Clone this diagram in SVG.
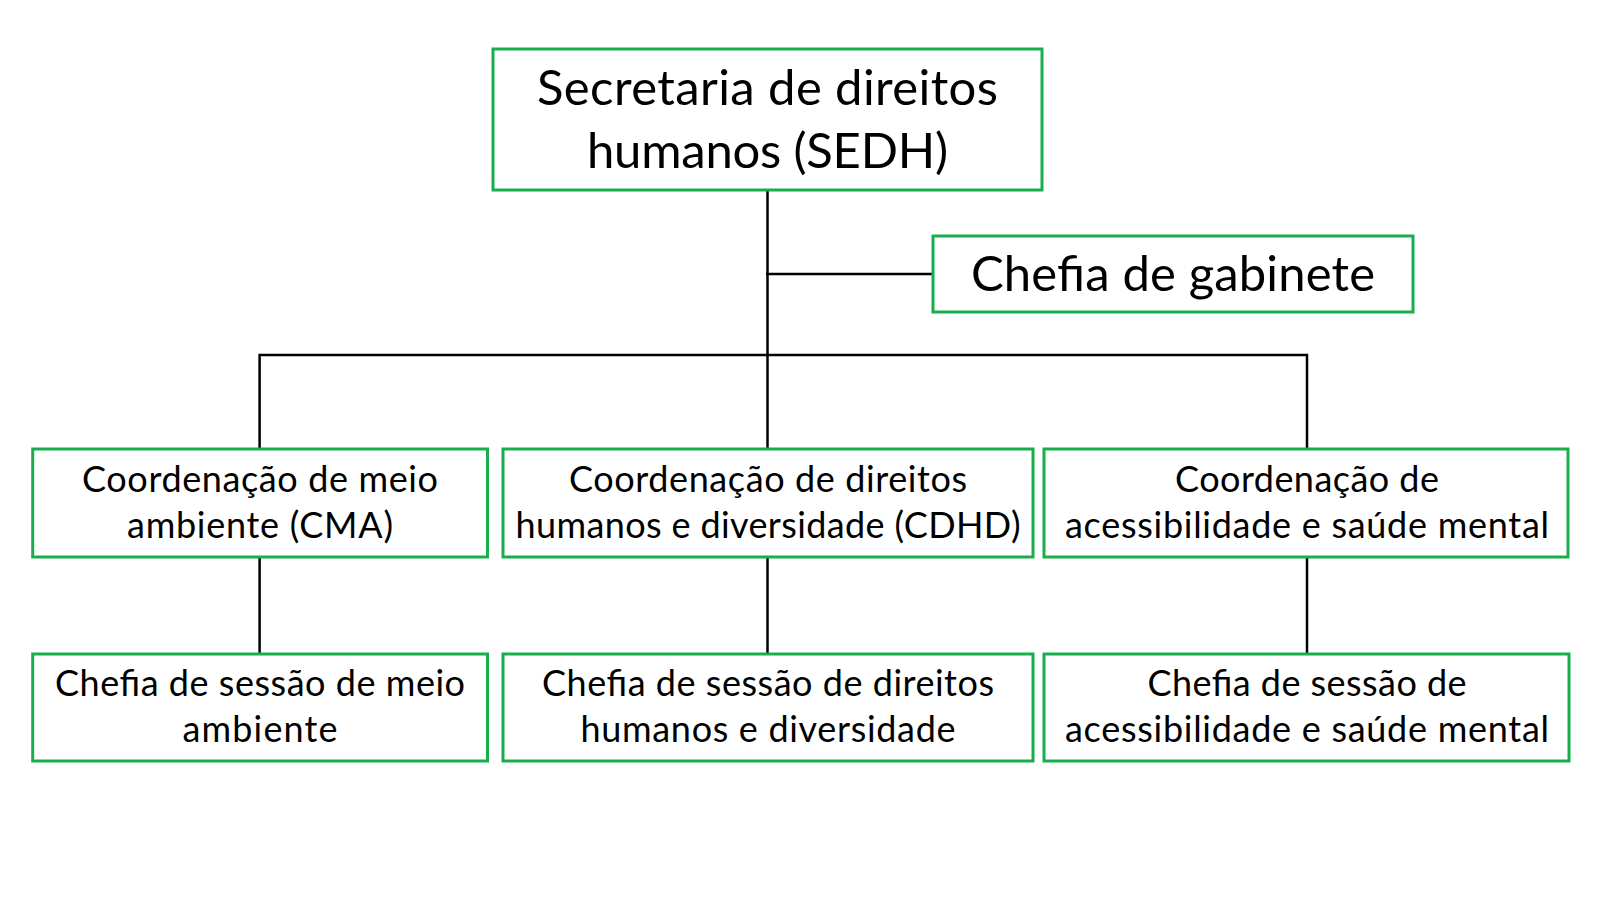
<svg xmlns="http://www.w3.org/2000/svg" width="1600" height="900" viewBox="0 0 1600 900">
<style>
.box{fill:#ffffff;stroke:#1aad4e;stroke-width:3}
.conn{stroke:#000000;stroke-width:2.5;fill:none}
.t{font-family:Lato,"Open Sans","Liberation Sans",sans-serif;fill:#000000;text-anchor:middle}
.big{font-size:49px}
.med{font-size:36px}
</style>
<rect width="1600" height="900" fill="#ffffff"/>
<g id="connectors">
<line class="conn" x1="767.5" y1="190" x2="767.5" y2="449"/>
<line class="conn" x1="766" y1="274" x2="933" y2="274"/>
<polyline class="conn" points="259.6,449 259.6,355 1307,355 1307,449"/>
<line class="conn" x1="259.6" y1="557" x2="259.6" y2="654"/>
<line class="conn" x1="767.5" y1="557" x2="767.5" y2="654"/>
<line class="conn" x1="1307" y1="557" x2="1307" y2="654"/>
</g>
<g id="sedh">
<rect class="box" x="493" y="49" width="549" height="141"/>
<text class="t big" x="767.5" y="105" textLength="461">Secretaria de direitos</text>
<text class="t big" x="767.5" y="168" textLength="361">humanos (SEDH)</text>
</g>
<g id="chefia-gabinete">
<rect class="box" x="933" y="236" width="480" height="76"/>
<text class="t big" x="1173" y="291" textLength="404">Chefia de gabinete</text>
</g>
<g id="cma">
<rect class="box" x="32.7" y="449" width="454.8" height="108"/>
<text class="t med" x="260" y="492" textLength="356">Coordenação de meio</text>
<text class="t med" x="260" y="538" textLength="266">ambiente (CMA)</text>
</g>
<g id="cdhd">
<rect class="box" x="503" y="449" width="530" height="108"/>
<text class="t med" x="768" y="492" textLength="398">Coordenação de direitos</text>
<text class="t med" x="768" y="538" textLength="505">humanos e diversidade (CDHD)</text>
</g>
<g id="casm">
<rect class="box" x="1044" y="449" width="524" height="108"/>
<text class="t med" x="1307" y="492" textLength="264">Coordenação de</text>
<text class="t med" x="1307" y="538" textLength="484">acessibilidade e saúde mental</text>
</g>
<g id="chefia-cma">
<rect class="box" x="32.7" y="654" width="454.8" height="107"/>
<text class="t med" x="260" y="696" textLength="410">Chefia de sessão de meio</text>
<text class="t med" x="260" y="742" textLength="155">ambiente</text>
</g>
<g id="chefia-cdhd">
<rect class="box" x="503" y="654" width="530" height="107"/>
<text class="t med" x="768" y="696" textLength="452">Chefia de sessão de direitos</text>
<text class="t med" x="768" y="742" textLength="375">humanos e diversidade</text>
</g>
<g id="chefia-casm">
<rect class="box" x="1044" y="654" width="525" height="107"/>
<text class="t med" x="1307" y="696" textLength="319">Chefia de sessão de</text>
<text class="t med" x="1307" y="742" textLength="484">acessibilidade e saúde mental</text>
</g>
</svg>
